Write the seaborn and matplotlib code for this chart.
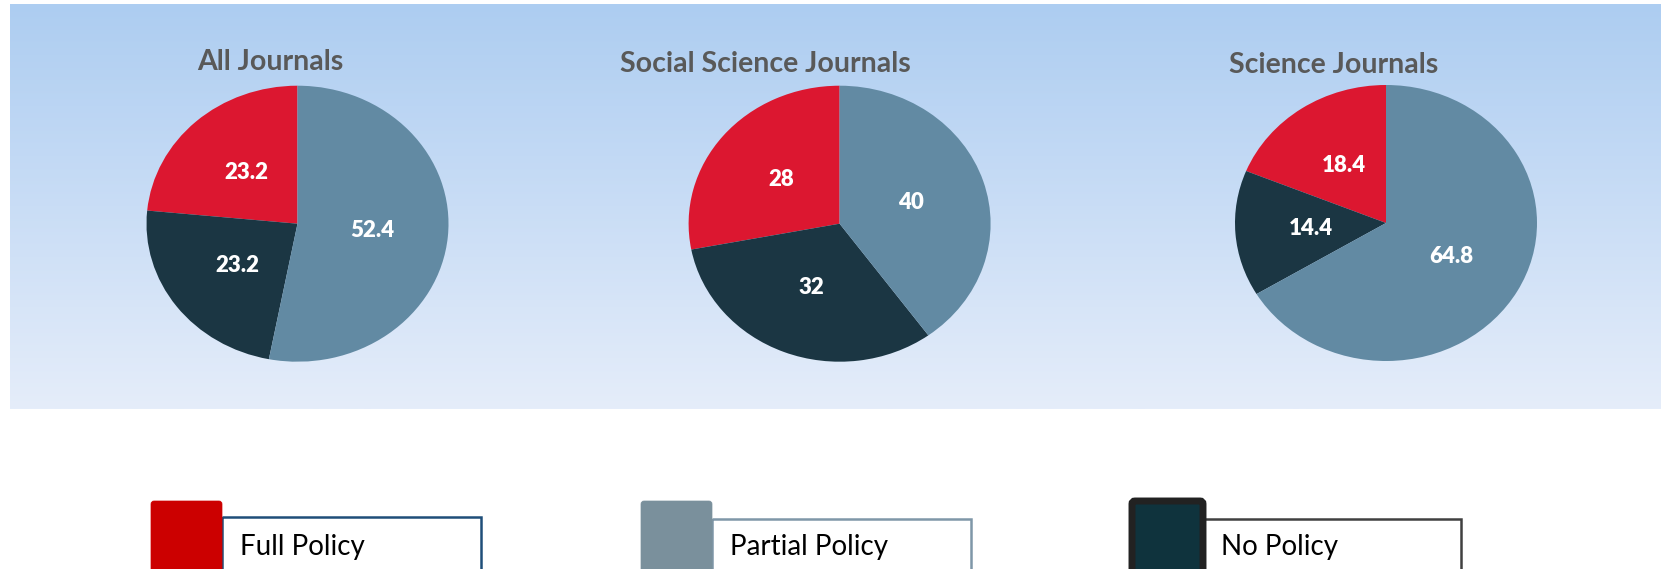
import numpy as np
import matplotlib
matplotlib.use("Agg")
import matplotlib.pyplot as plt
from matplotlib.patches import Rectangle, FancyBboxPatch
import seaborn as sns

# ---- data ----
titles = ["All Journals", "Social Science Journals", "Science Journals"]
categories = ["Full Policy", "No Policy", "Partial Policy"]
all_journals = [23.2, 23.2, 52.4]
social_science = [28, 32, 40]
science = [18.4, 14.4, 64.8]
series = [all_journals, social_science, science]
legend_order = ["Full Policy", "Partial Policy", "No Policy"]

pie_colors = {"Full Policy": "#DC1730", "No Policy": "#1B3643", "Partial Policy": "#628AA3"}
legend_fill = {"Full Policy": "#CC0000", "Partial Policy": "#7A909C", "No Policy": "#0F333D"}
legend_edge = {"Full Policy": "#CC0000", "Partial Policy": "#7A909C", "No Policy": "#222222"}
box_edge = {"Full Policy": "#1F4E79", "Partial Policy": "#7F97A8", "No Policy": "#404040"}

sns.set_theme(style="white")
plt.rcParams["font.family"] = ["Lato", "DejaVu Sans"]

W, H = 1661, 569
fig = plt.figure(figsize=(W / 100, H / 100), dpi=100)
fig.patch.set_facecolor("white")

def fig_rect(x0, y0, x1, y1):
    return [x0 / W, (H - y1) / H, (x1 - x0) / W, (y1 - y0) / H]

# ---- gradient background ----
bg = fig.add_axes(fig_rect(10, 4, W, 409))
top = np.array([173, 205, 241]) / 255
bot = np.array([229, 237, 250]) / 255
t = np.linspace(0, 1, 256)[:, None]
grad = (top[None, :] * (1 - t) + bot[None, :] * t)[:, None, :]
bg.imshow(grad, aspect="auto", extent=[0, 1, 0, 1], origin="upper")
bg.set_axis_off()

# ---- pies ----
centers = [(297.5, 223.7), (839.6, 223.7), (1386, 223)]
rx, ry = 151, 138
title_pos = [(270, 70), (765, 72.3), (1334, 72.7)]

def make_labeler(vals):
    it = iter(vals)
    return lambda p: f"{next(it):g}"

for vals, (cx, cy), title, (tx, ty) in zip(series, centers, titles, title_pos):
    ax = fig.add_axes(fig_rect(cx - rx, cy - ry, cx + rx, cy + ry))
    ax.pie(vals, colors=[pie_colors[c] for c in categories], startangle=90,
           counterclock=True, autopct=make_labeler(vals), pctdistance=0.5,
           textprops=dict(color="white", fontsize=16, fontweight="heavy"),
           wedgeprops=dict(linewidth=0))
    ax.set_aspect("auto")
    ax.set_xlim(-1, 1)
    ax.set_ylim(-1, 1)
    ax.set_axis_off()
    fig.text(tx / W, 1 - ty / H, title, ha="center", va="baseline",
             fontsize=20.5, fontweight="bold", color="#595959")

# ---- legend ----
ov = fig.add_axes([0, 0, 1, 1])
ov.set_xlim(0, W)
ov.set_ylim(H, 0)
ov.set_axis_off()
ov.patch.set_alpha(0)

sq_x = [151, 641, 1132]
box_right = [481, 971, 1461]
box_top = [517, 519, 519]
for cat, sx, br, bt in zip(legend_order, sq_x, box_right, box_top):
    ov.add_patch(Rectangle((sx + 71, bt), br - (sx + 71), 80, fill=False,
                           edgecolor=box_edge[cat], linewidth=1.8, clip_on=True))
    lw = 5 if cat == "No Policy" else 0.5
    ov.add_patch(FancyBboxPatch((sx + 3, 504), 65, 90,
                                boxstyle="round,pad=3,rounding_size=3",
                                facecolor=legend_fill[cat], edgecolor=legend_edge[cat],
                                linewidth=lw, clip_on=True))
    ov.text(sx + 89, 555, cat, ha="left", va="baseline", fontsize=20, color="black")

fig.savefig("out.png", dpi=100)
